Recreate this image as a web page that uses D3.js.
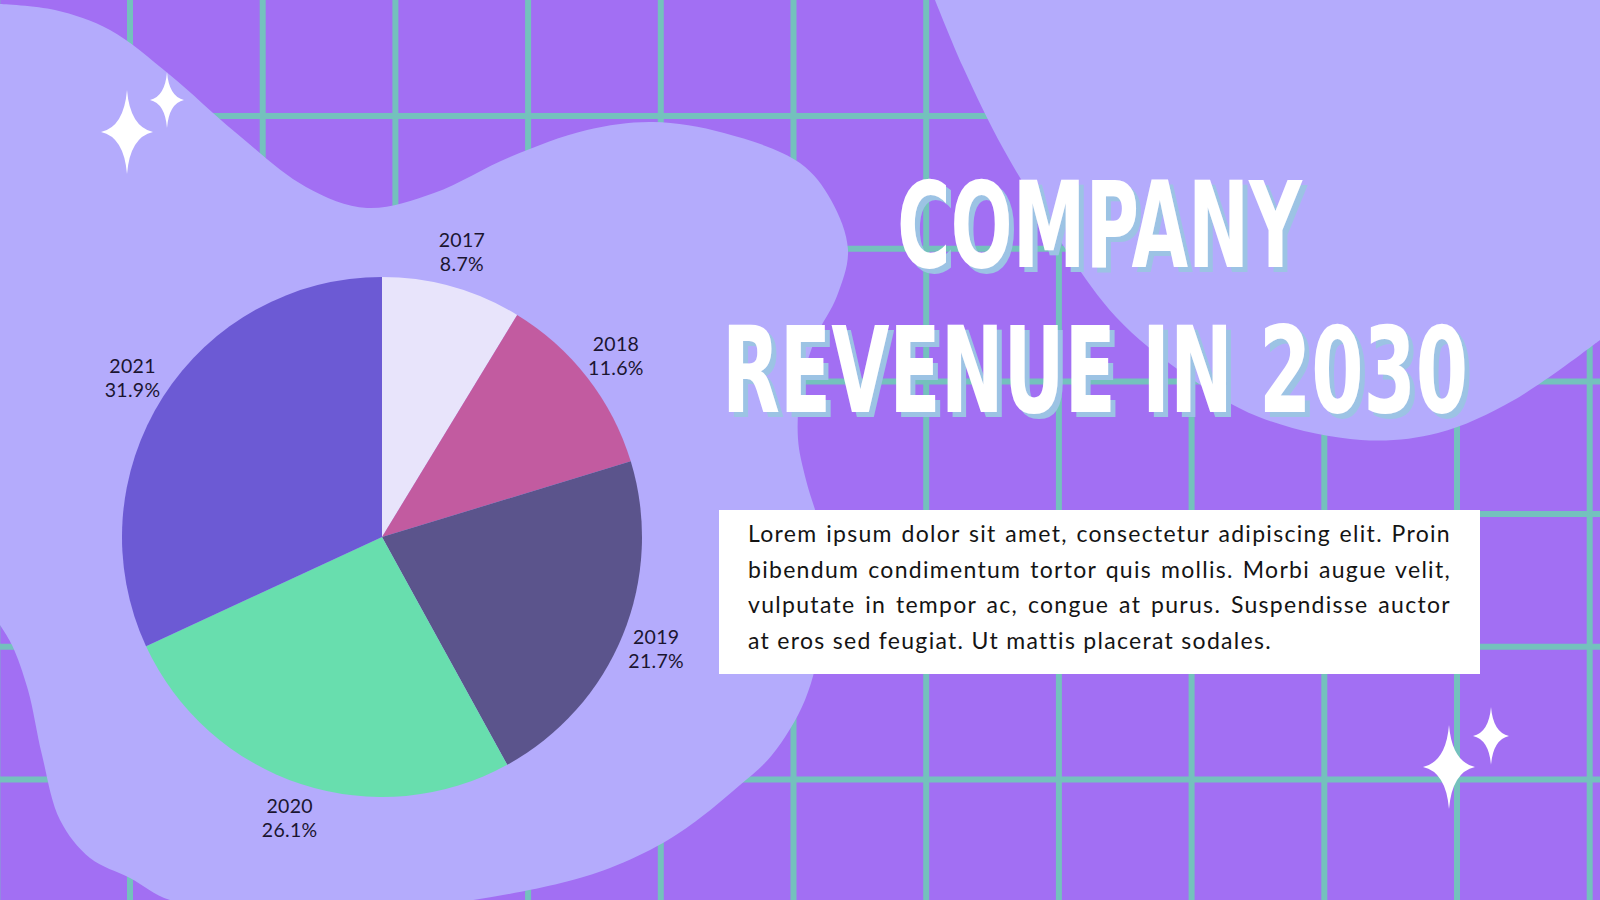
<!DOCTYPE html>
<html>
<head>
<meta charset="utf-8">
<script src="https://cdn.jsdelivr.net/npm/d3@7"></script>
<style>
  html, body { margin: 0; padding: 0; background: #a26ff3; overflow: hidden; }
  svg { display: block; }
</style>
</head>
<body>
<script>
// Chart data
const years = ['2017', '2018', '2019', '2020', '2021'];
const shares = [8.7, 11.6, 21.7, 26.1, 31.9];
const sliceColors = ['#e8e4fb', '#c25ba0', '#5b548c', '#68deae', '#6c5ad4'];

const titleLines = ['COMPANY', 'REVENUE IN 2030'];
const bodyLines = [
    'Lorem ipsum dolor sit amet, consectetur adipiscing elit. Proin',
    'bibendum condimentum tortor quis mollis. Morbi augue velit,',
    'vulputate in tempor ac, congue at purus. Suspendisse auctor',
    'at eros sed feugiat. Ut mattis placerat sodales.'
];

// Decoration outlines
const leftBlob = [[0,4],[55,10],[110,30],[170,75],[235,132],[306,187],[367,208],[434,193],[510,157],
    [587,130],[653,122],[724,133],[800,163],[831,200],[848,250],[837,296],[816,337],[801,388],
    [798,439],[806,480],[821,531],[826,571],[822,633],[805,700],[772,755],[740,785],[700,818],
    [663,843],[610,868],[561,883],[459,902],[350,910],[250,908],[170,900],[130,878],[90,858],
    [60,820],[42,755],[28,690],[12,645],[0,625]];
const rightBlob = [[935,0],[963,67],[1004,150],[1055,233],[1116,317],[1183,373],[1259,417],
    [1361,440],[1438,433],[1514,400],[1600,340]];
const sparkles = [[127,132,26,42],[167,100,17,28],[1449,767,26,42],[1491,736,18,29]];

const width = 1600, height = 900;
const cx = 382, cy = 537, radius = 260;

const svg = d3.select('body').append('svg')
    .attr('width', width)
    .attr('height', height);

// shadow under the title letters
const shadow = svg.append('defs').append('filter')
    .attr('id', 'titleShadow')
    .attr('filterUnits', 'userSpaceOnUse')
    .attr('x', 0).attr('y', 0).attr('width', width).attr('height', height);
shadow.append('feFlood').attr('flood-color', '#9cc3e4').attr('result', 'tint');
shadow.append('feComposite').attr('in', 'tint').attr('in2', 'SourceAlpha').attr('operator', 'in').attr('result', 'solid');
shadow.append('feOffset').attr('in', 'solid').attr('dx', 5).attr('dy', 5).attr('result', 'moved');
const merge = shadow.append('feMerge');
merge.append('feMergeNode').attr('in', 'moved');
merge.append('feMergeNode').attr('in', 'SourceGraphic');

svg.append('rect').attr('width', width).attr('height', height).attr('fill', '#a26ff3');

// Grid
const step = 132.7;
const grid = svg.append('g').attr('stroke', '#74c1bd').attr('stroke-width', 6);
grid.selectAll('.v').data(d3.range(-1, 12)).join('line')
    .attr('x1', d => 130 + d * step).attr('x2', d => 130 + d * step)
    .attr('y1', 0).attr('y2', height);
grid.selectAll('.h').data(d3.range(-1, 7)).join('line')
    .attr('y1', d => 116 + d * step).attr('y2', d => 116 + d * step)
    .attr('x1', 0).attr('x2', width);

// Blobs
const smooth = d3.line().curve(d3.curveCatmullRom.alpha(0.5));
svg.append('path')
    .attr('d', smooth(leftBlob) + 'L-30,625L-30,4Z')
    .attr('fill', '#b4abfc');
svg.append('path')
    .attr('d', smooth(rightBlob) + 'L1630,340L1630,-30L935,-30Z')
    .attr('fill', '#b4abfc');

// Sparkles
function star(w, h) {
    const k = 0.12;
    return `M0,${-h}Q${w*k},${-h*k} ${w},0Q${w*k},${h*k} 0,${h}` +
        `Q${-w*k},${h*k} ${-w},0Q${-w*k},${-h*k} 0,${-h}Z`;
}
svg.selectAll('.spark').data(sparkles).join('path')
    .attr('transform', d => `translate(${d[0]},${d[1]})`)
    .attr('d', d => star(d[2], d[3]))
    .attr('fill', '#ffffff');

// Pie
const pie = d3.pie().sort(null).value(d => d)(shares);
const arc = d3.arc().innerRadius(0).outerRadius(radius);
const labelArc = d3.arc().innerRadius(296).outerRadius(296);

const g = svg.append('g').attr('transform', `translate(${cx},${cy})`);
g.selectAll('path').data(pie).join('path')
    .attr('d', arc)
    .attr('fill', (d, i) => sliceColors[i]);

const labels = g.selectAll('text').data(pie).join('text')
    .attr('transform', d => `translate(${labelArc.centroid(d)})`)
    .attr('text-anchor', 'middle')
    .attr('font-family', 'Lato, sans-serif')
    .attr('font-size', 19.5)
    .attr('letter-spacing', 0.3)
    .attr('fill', '#1b1530');
labels.append('tspan').attr('x', 0).attr('y', -5).text((d, i) => years[i]);
labels.append('tspan').attr('x', 0).attr('y', 19).text(d => d.data.toFixed(1) + '%');

// Title
const titleLayout = [{ x: 897, y: 267, w: 405 }, { x: 722, y: 412, w: 746 }];
svg.append('g')
    .attr('filter', 'url(#titleShadow)')
    .attr('font-family', '"Liberation Sans Narrow", "DejaVu Sans Condensed", sans-serif')
    .attr('font-weight', 'bold')
    .attr('font-size', 120)
    .attr('fill', '#ffffff')
    .selectAll('text').data(titleLines).join('text')
    .attr('x', (d, i) => titleLayout[i].x)
    .attr('y', (d, i) => titleLayout[i].y)
    .attr('textLength', (d, i) => titleLayout[i].w)
    .attr('lengthAdjust', 'spacingAndGlyphs')
    .text(d => d);

// Text box
svg.append('rect')
    .attr('x', 719).attr('y', 510)
    .attr('width', 761).attr('height', 164)
    .attr('fill', '#ffffff');

const boxText = svg.append('g')
    .attr('font-family', 'Lato, sans-serif')
    .attr('font-size', 23)
    .attr('letter-spacing', 1.3)
    .attr('fill', '#141414');
const lineWidth = 703;
boxText.selectAll('text').data(bodyLines).join('text')
    .attr('x', 748)
    .attr('y', (d, i) => 542 + i * 35.7)
    .text(d => d)
    .each(function (d, i) {
        if (i === bodyLines.length - 1) return;
        const spaces = d.split(' ').length - 1;
        const natural = this.getComputedTextLength();
        d3.select(this).attr('word-spacing', (lineWidth - natural) / spaces);
    });
</script>
</body>
</html>
